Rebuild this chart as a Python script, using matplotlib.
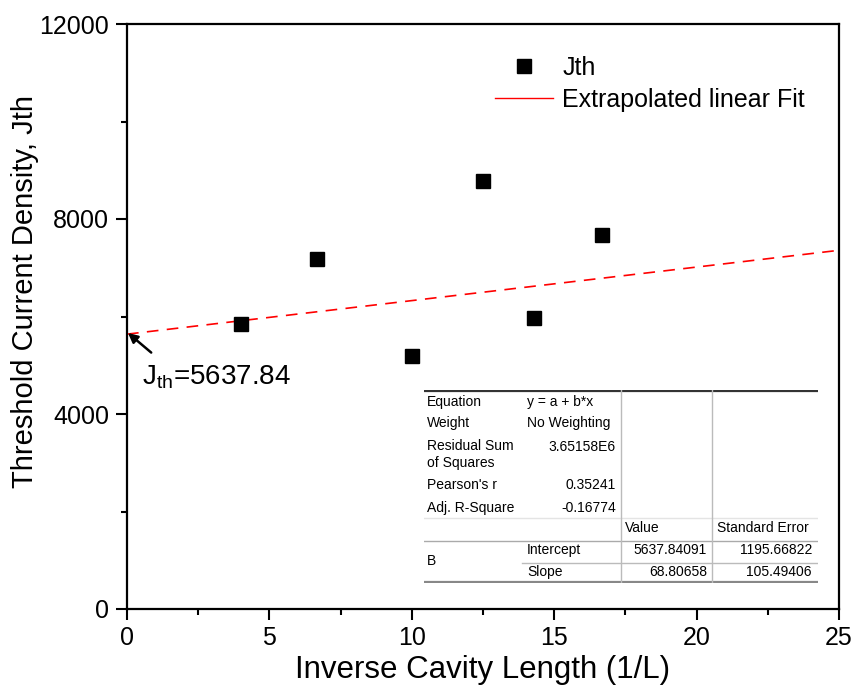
import matplotlib
matplotlib.use("Agg")
import matplotlib.pyplot as plt
from matplotlib.ticker import MultipleLocator

plt.rcParams['font.family'] = ['Liberation Sans', 'DejaVu Sans']

# data
inv_length = [4.0, 6.67, 10.0, 12.5, 14.29, 16.67]
jth = [5846, 7173, 5196, 8780, 5973, 7672]

# linear fit results (from the fit table)
intercept = 5637.84091
slope = 68.80658
fit_x = [0, 25]
fit_y = [intercept + slope * x for x in fit_x]

# fit table content
stat_labels = ["Equation", "Weight", "Residual Sum\nof Squares", "Pearson's r", "Adj. R-Square"]
stat_values = ["y = a + b*x", "No Weighting", "3.65158E6", "0.35241", "-0.16774"]
param_names = ["Intercept", "Slope"]
param_values = ["5637.84091", "68.80658"]
param_errors = ["1195.66822", "105.49406"]

fig = plt.figure(figsize=(8.59, 6.89), dpi=100)
ax = fig.add_axes([127 / 859, 1 - 609 / 689, 712 / 859, 585 / 689])

ax.plot(inv_length, jth, 's', color='black', markersize=9.5, label='Jth', zorder=3)
ax.plot(fit_x, fit_y, color='red', lw=1.2, dashes=(7, 5), zorder=2)
# legend shows a solid line for the fit
ax.plot([], [], color='red', lw=1.0, label='Extrapolated linear Fit')

ax.set_xlim(0, 25)
ax.set_ylim(0, 12000)
ax.xaxis.set_major_locator(MultipleLocator(5))
ax.xaxis.set_minor_locator(MultipleLocator(2.5))
ax.yaxis.set_major_locator(MultipleLocator(4000))
ax.yaxis.set_minor_locator(MultipleLocator(2000))
ax.tick_params(which='major', direction='out', length=8, width=1.5, labelsize=18)
ax.tick_params(which='minor', direction='out', length=4, width=1.5)
ax.tick_params(axis='x', pad=4)
ax.tick_params(axis='y', pad=5)
ax.tick_params(top=False, right=False)
for s in ax.spines.values():
    s.set_linewidth(1.6)

ax.set_xlabel("Inverse Cavity Length (1/L)", fontsize=22.5)
ax.xaxis.label.set_va('baseline')
ax.xaxis.set_label_coords(0.5, (609 - 678) / 585)

ax.set_ylabel("Threshold Current Density, Jth", fontsize=21)
ax.yaxis.label.set_va('center')
ax.yaxis.set_label_coords((25 - 127) / 712, (609 - 292) / 585)

ax.legend(loc='upper left', bbox_to_anchor=(0.517, 0.945), frameon=False, fontsize=18,
          handlelength=2.33, handletextpad=0.36, labelspacing=0.3, borderpad=0,
          borderaxespad=0)

ax.annotate('', xy=(0.035, 5662), xytext=(0.85, 5260),
            arrowprops=dict(arrowstyle='-|>', color='black', lw=1.8, mutation_scale=14,
                            shrinkA=0, shrinkB=0))
ax.text(0.527, 4595, r'$\mathregular{J_{th}}$=5637.84', fontsize=20, va='baseline', ha='left')

# fit results table, drawn in its own small axes (pixel-like units)
tb = ax.inset_axes([(424 - 127) / 712, (609 - 583) / 585, 394 / 712, 193 / 585])
tb.set_xlim(0, 394)
tb.set_ylim(193, 0)
tb.axis('off')
tb.set_zorder(5)
tb.add_patch(plt.Rectangle((0, 0), 394, 193, color='white', zorder=0))

fs = 10
row_y = [12, 33, 57, 95, 118]
for lab, val, y in zip(stat_labels, stat_values, row_y):
    if '\n' in lab:
        tb.text(3, y - 8, lab, fontsize=fs, va='top', ha='left', linespacing=1.25)
    else:
        tb.text(3, y, lab, fontsize=fs, va='center', ha='left')
    if val[0].isalpha():
        tb.text(103, y, val, fontsize=fs, va='center', ha='left')
    else:
        tb.text(192, y, val, fontsize=fs, va='center', ha='right')

tb.text(201, 138, "Value", fontsize=fs, va='center', ha='left')
tb.text(293, 138, "Standard Error", fontsize=fs, va='center', ha='left')
tb.text(3, 171, "B", fontsize=fs, va='center', ha='left')
for name, v, e, y in zip(param_names, param_values, param_errors, [160, 182]):
    tb.text(103, y, name, fontsize=fs, va='center', ha='left')
    tb.text(283, y, v, fontsize=fs, va='center', ha='right')
    tb.text(388, y, e, fontsize=fs, va='center', ha='right')

tb.plot([0, 394], [0.8, 0.8], color='#333333', lw=1.6)
tb.plot([0, 394], [192.2, 192.2], color='#888888', lw=1.6)
tb.plot([0, 394], [128, 128], color='#e4e4e4', lw=1.0)
tb.plot([0, 394], [151, 151], color='#aaaaaa', lw=1.0)
tb.plot([98, 394], [173, 173], color='#bbbbbb', lw=1.0)
tb.plot([197, 197], [0, 193], color='#bbbbbb', lw=1.0)
tb.plot([288, 288], [0, 193], color='#bbbbbb', lw=1.0)

fig.savefig("out.png", dpi=100)
